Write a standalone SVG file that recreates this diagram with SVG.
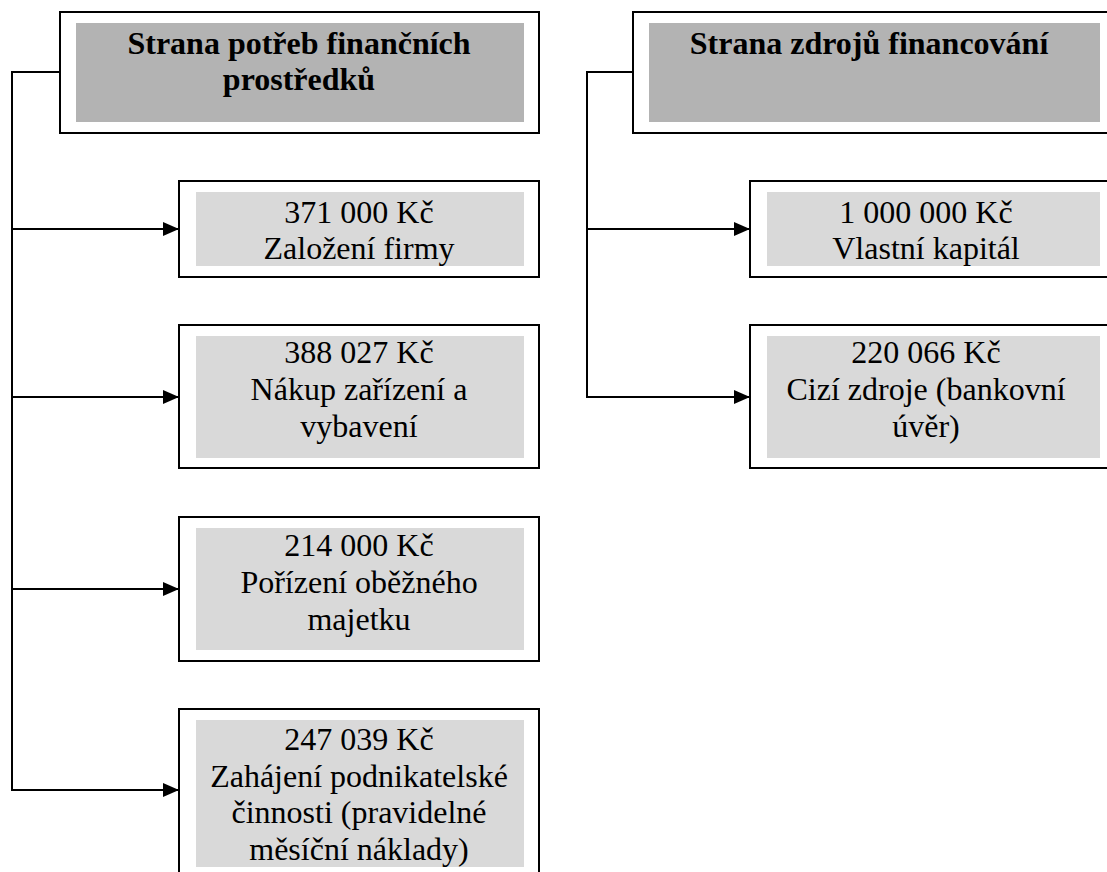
<svg xmlns="http://www.w3.org/2000/svg" width="1107" height="872" viewBox="0 0 1107 872">
  <defs>
    <style>
      .outer { fill: #ffffff; stroke: #000000; stroke-width: 2; }
      .hdr { fill: #b3b3b3; }
      .inner { fill: #d9d9d9; }
      .conn { fill: none; stroke: #000000; stroke-width: 2; }
      .ht { font-family: "Liberation Serif", "Times New Roman", serif; font-size: 32px; font-weight: bold; fill: #000; text-anchor: middle; }
      .t { font-family: "Liberation Serif", "Times New Roman", serif; font-size: 32px; fill: #000; text-anchor: middle; }
    </style>
    <marker id="arr" markerWidth="16" markerHeight="14" refX="16" refY="7" orient="auto" markerUnits="userSpaceOnUse">
      <path d="M0,0 L16,7 L0,14 Z" fill="#000"/>
    </marker>
  </defs>
  <rect width="1107" height="872" fill="#ffffff"/>

  <g id="connectors">
    <polyline class="conn" points="60,72 12,72 12,790"/>
    <line class="conn" x1="12" y1="229" x2="179" y2="229" marker-end="url(#arr)"/>
    <line class="conn" x1="12" y1="397" x2="179" y2="397" marker-end="url(#arr)"/>
    <line class="conn" x1="12" y1="589" x2="179" y2="589" marker-end="url(#arr)"/>
    <line class="conn" x1="11" y1="790" x2="179" y2="790" marker-end="url(#arr)"/>
    <polyline class="conn" points="633,72 587,72 587,397"/>
    <line class="conn" x1="587" y1="229" x2="750" y2="229" marker-end="url(#arr)"/>
    <line class="conn" x1="586" y1="397" x2="750" y2="397" marker-end="url(#arr)"/>
  </g>

  <g id="node-potreby">
    <rect class="outer" x="60" y="12" width="479" height="121"/>
    <rect class="hdr" x="76" y="23" width="448" height="99"/>
    <text class="ht" x="299" y="54">Strana potřeb finančních</text>
    <text class="ht" x="299" y="90">prostředků</text>
  </g>

  <g id="node-zdroje">
    <rect class="outer" x="633" y="12" width="485" height="121"/>
    <rect class="hdr" x="649" y="23" width="451" height="99"/>
    <text class="ht" x="869" y="54">Strana zdrojů financování</text>
  </g>

  <g id="node-zalozeni">
    <rect class="outer" x="179" y="181" width="360" height="96"/>
    <rect class="inner" x="196" y="192" width="328" height="74"/>
    <text class="t" x="359" y="223">371 000 Kč</text>
    <text class="t" x="359" y="259">Založení firmy</text>
  </g>

  <g id="node-nakup">
    <rect class="outer" x="179" y="325" width="360" height="143"/>
    <rect class="inner" x="196" y="336" width="328" height="122"/>
    <text class="t" x="359" y="363">388 027 Kč</text>
    <text class="t" x="359" y="400">Nákup zařízení a</text>
    <text class="t" x="359" y="437">vybavení</text>
  </g>

  <g id="node-obezny">
    <rect class="outer" x="179" y="517" width="360" height="144"/>
    <rect class="inner" x="196" y="528" width="328" height="122"/>
    <text class="t" x="359" y="556">214 000 Kč</text>
    <text class="t" x="359" y="593">Pořízení oběžného</text>
    <text class="t" x="359" y="630">majetku</text>
  </g>

  <g id="node-zahajeni">
    <rect class="outer" x="179" y="709" width="360" height="170"/>
    <rect class="inner" x="196" y="720" width="328" height="147"/>
    <text class="t" x="359" y="750">247 039 Kč</text>
    <text class="t" x="359" y="787">Zahájení podnikatelské</text>
    <text class="t" x="359" y="823">činnosti (pravidelné</text>
    <text class="t" x="359" y="860">měsíční náklady)</text>
  </g>

  <g id="node-vlastni">
    <rect class="outer" x="750" y="181" width="368" height="96"/>
    <rect class="inner" x="767" y="192" width="333" height="74"/>
    <text class="t" x="926" y="223">1 000 000 Kč</text>
    <text class="t" x="926" y="259">Vlastní kapitál</text>
  </g>

  <g id="node-cizi">
    <rect class="outer" x="750" y="325" width="368" height="143"/>
    <rect class="inner" x="767" y="336" width="333" height="122"/>
    <text class="t" x="926" y="363">220 066 Kč</text>
    <text class="t" x="926" y="400">Cizí zdroje (bankovní</text>
    <text class="t" x="926" y="437">úvěr)</text>
  </g>
</svg>
